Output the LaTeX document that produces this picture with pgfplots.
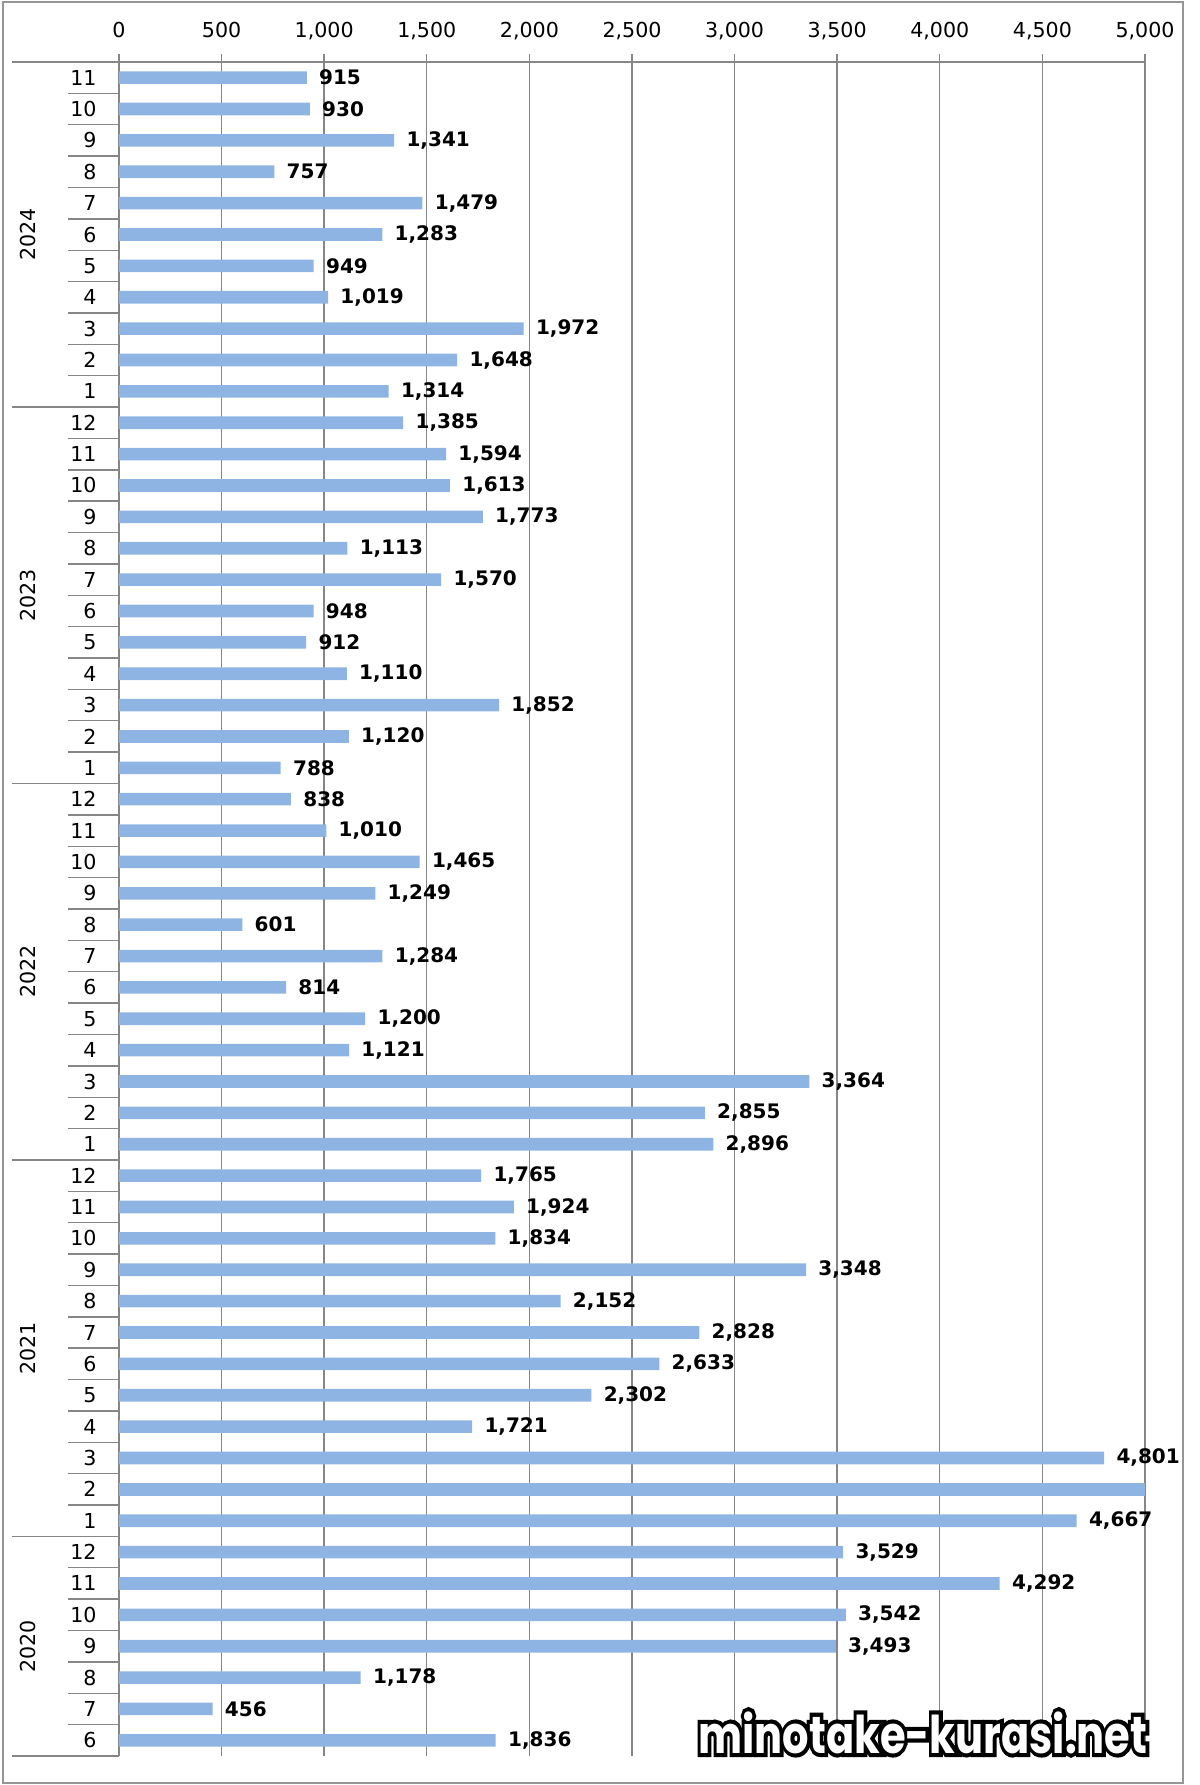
\documentclass[border=0pt]{standalone}
\usepackage{pgfplots}
\pgfplotsset{compat=1.18}
\usepackage{fontspec}
\setmainfont{DejaVu Sans}
\newfontfamily\wmfont{Poppins}
\newfontfamily\wmoutline{Poppins}[FakeBold=16, UprightFont=*-Bold]
\definecolor{barcol}{RGB}{141,180,226}
\definecolor{gridcol}{RGB}{134,134,134}
\definecolor{framecol}{RGB}{150,150,150}
\newcommand{\wmtext}{minotake-kurasi.net}
\begin{document}
\begin{tikzpicture}
\useasboundingbox (-59.5pt,-14.5pt) rectangle (540.5pt,878pt);
\draw[framecol, line width=1pt] (-58pt,-13.5pt) rectangle (532pt,877pt);
\begin{axis}[
  at={(0,0)}, anchor=south west,
  scale only axis, width=513pt, height=847pt,
  xbar, bar width=6.3pt, bar shift=0pt,
  xmin=0, xmax=5000, ymin=-0.5, ymax=53.5,
  axis x line*=top, axis y line*=left,
  axis line style={gridcol, line width=0.7pt},
  xtick={0,500,...,5000},
  xmajorgrids, grid style={gridcol, line width=0.7pt},
  tick align=outside, major tick length=4pt,
  xtick style={gridcol, line width=0.7pt},
  ytick style={draw=none},
  ytick={0,...,53},
  yticklabels={6,7,8,9,10,11,12,1,2,3,4,5,6,7,8,9,10,11,12,1,2,3,4,5,6,7,8,9,10,11,12,1,2,3,4,5,6,7,8,9,10,11,12,1,2,3,4,5,6,7,8,9,10,11},
  /pgf/number format/assume math mode=true,
  /pgf/number format/1000 sep={,},
  scaled x ticks=false,
  tick label style={font=\fontsize{10.3}{12}\selectfont},
  xticklabel style={anchor=base, yshift=8pt},
  yticklabel style={anchor=east, inner sep=0pt, xshift=-7pt},
  point meta=x,
  nodes near coords,
  every node near coord/.append style={font=\fontsize{10}{12}\selectfont\bfseries, anchor=west, inner sep=0pt, xshift=6pt, text=black},
  clip=false,
]
\addplot[fill=barcol, draw=none] coordinates {
 (1836,0) (456,1) (1178,2) (3493,3) (3542,4) (4292,5) (3529,6)
 (4667,7) (4801,9) (1721,10) (2302,11) (2633,12) (2828,13) (2152,14) (3348,15) (1834,16) (1924,17) (1765,18)
 (2896,19) (2855,20) (3364,21) (1121,22) (1200,23) (814,24) (1284,25) (601,26) (1249,27) (1465,28) (1010,29) (838,30)
 (788,31) (1120,32) (1852,33) (1110,34) (912,35) (948,36) (1570,37) (1113,38) (1773,39) (1613,40) (1594,41) (1385,42)
 (1314,43) (1648,44) (1972,45) (1019,46) (949,47) (1283,48) (1479,49) (757,50) (1341,51) (930,52) (915,53)
};
\addplot[fill=barcol, draw=none, nodes near coords=] coordinates {(5000,8)};
\pgfplotsinvokeforeach{0,...,52}{
  \draw[gridcol, line width=0.7pt] (axis cs:0,#1+0.5) -- ++(-25.5pt,0pt);
}
\pgfplotsinvokeforeach{-0.5,6.5,18.5,30.5,42.5,53.5}{
  \draw[gridcol, line width=0.7pt] (axis cs:0,#1) -- ++(-53.5pt,0pt);
}
\node[rotate=90, font=\fontsize{10.3}{12}\selectfont] at ([xshift=-45.5pt]axis cs:0,3) {2020};
\node[rotate=90, font=\fontsize{10.3}{12}\selectfont] at ([xshift=-45.5pt]axis cs:0,12.5) {2021};
\node[rotate=90, font=\fontsize{10.3}{12}\selectfont] at ([xshift=-45.5pt]axis cs:0,24.5) {2022};
\node[rotate=90, font=\fontsize{10.3}{12}\selectfont] at ([xshift=-45.5pt]axis cs:0,36.5) {2023};
\node[rotate=90, font=\fontsize{10.3}{12}\selectfont] at ([xshift=-45.5pt]axis cs:0,48) {2024};
\end{axis}
\node[anchor=base west, inner sep=0pt, xscale=0.8, font=\wmoutline\fontsize{26}{28}\selectfont, text=black] at (289.5pt,1.5pt) {\wmtext};
\node[anchor=base west, inner sep=0pt, xscale=0.8, font=\wmfont\bfseries\fontsize{26}{28}\selectfont, text=white] at (289.5pt,1.5pt) {\wmtext};
\end{tikzpicture}
\end{document}
